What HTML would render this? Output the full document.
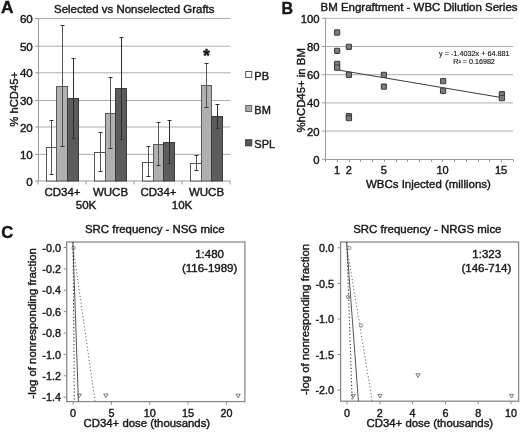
<!DOCTYPE html>
<html><head><meta charset="utf-8"><style>
html,body{margin:0;padding:0;background:#fff;}
svg{display:block;font-family:"Liberation Sans", sans-serif;will-change:transform;}
text{stroke:#161616;stroke-width:0.4px;}
text.sm{stroke-width:0.15px;}
</style></head><body>
<svg width="520" height="432" viewBox="0 0 520 432">
<rect width="520" height="432" fill="#fff"/>
<line x1="38.5" y1="154.4" x2="230.5" y2="154.4" stroke="#adadad" stroke-width="1"/>
<line x1="38.5" y1="127.0" x2="230.5" y2="127.0" stroke="#adadad" stroke-width="1"/>
<line x1="38.5" y1="100.5" x2="230.5" y2="100.5" stroke="#adadad" stroke-width="1"/>
<line x1="38.5" y1="72.8" x2="230.5" y2="72.8" stroke="#adadad" stroke-width="1"/>
<line x1="38.5" y1="46.2" x2="230.5" y2="46.2" stroke="#adadad" stroke-width="1"/>
<line x1="38.5" y1="18.5" x2="230.5" y2="18.5" stroke="#adadad" stroke-width="1"/>
<line x1="38.5" y1="18" x2="38.5" y2="181.0" stroke="#9a9a9a" stroke-width="1"/>
<line x1="35" y1="181.0" x2="38.5" y2="181.0" stroke="#9a9a9a" stroke-width="1"/>
<text x="32.8" y="185.6" font-size="11.6" text-anchor="end" font-weight="normal" fill="#161616" >0</text>
<line x1="35" y1="154.4" x2="38.5" y2="154.4" stroke="#9a9a9a" stroke-width="1"/>
<text x="32.8" y="159.0" font-size="11.6" text-anchor="end" font-weight="normal" fill="#161616" >10</text>
<line x1="35" y1="127.0" x2="38.5" y2="127.0" stroke="#9a9a9a" stroke-width="1"/>
<text x="32.8" y="131.6" font-size="11.6" text-anchor="end" font-weight="normal" fill="#161616" >20</text>
<line x1="35" y1="100.5" x2="38.5" y2="100.5" stroke="#9a9a9a" stroke-width="1"/>
<text x="32.8" y="105.1" font-size="11.6" text-anchor="end" font-weight="normal" fill="#161616" >30</text>
<line x1="35" y1="72.8" x2="38.5" y2="72.8" stroke="#9a9a9a" stroke-width="1"/>
<text x="32.8" y="77.39999999999999" font-size="11.6" text-anchor="end" font-weight="normal" fill="#161616" >40</text>
<line x1="35" y1="46.2" x2="38.5" y2="46.2" stroke="#9a9a9a" stroke-width="1"/>
<text x="32.8" y="50.800000000000004" font-size="11.6" text-anchor="end" font-weight="normal" fill="#161616" >50</text>
<line x1="35" y1="18.5" x2="38.5" y2="18.5" stroke="#9a9a9a" stroke-width="1"/>
<text x="32.8" y="23.1" font-size="11.6" text-anchor="end" font-weight="normal" fill="#161616" >60</text>
<line x1="38.0" y1="181.0" x2="230.5" y2="181.0" stroke="#9a9a9a" stroke-width="1"/>
<line x1="38.0" y1="181.0" x2="38.0" y2="184.5" stroke="#9a9a9a" stroke-width="1"/>
<line x1="86.0" y1="181.0" x2="86.0" y2="184.5" stroke="#9a9a9a" stroke-width="1"/>
<line x1="134.0" y1="181.0" x2="134.0" y2="184.5" stroke="#9a9a9a" stroke-width="1"/>
<line x1="182.0" y1="181.0" x2="182.0" y2="184.5" stroke="#9a9a9a" stroke-width="1"/>
<line x1="230.0" y1="181.0" x2="230.0" y2="184.5" stroke="#9a9a9a" stroke-width="1"/>
<rect x="46.5" y="147.5" width="10" height="33.5" fill="#ffffff" stroke="#555555" stroke-width="1"/>
<rect x="56.5" y="86.5" width="11" height="94.5" fill="#b0b0b0" stroke="#5a5a5a" stroke-width="1"/>
<rect x="67.5" y="98.5" width="11" height="82.5" fill="#5c5c5c" stroke="#3a3a3a" stroke-width="1"/>
<line x1="51.5" y1="120.41" x2="51.5" y2="174.24" stroke="#555" stroke-width="1"/>
<line x1="49.5" y1="120.5" x2="53.5" y2="120.5" stroke="#333" stroke-width="1"/>
<line x1="49.5" y1="174.5" x2="53.5" y2="174.5" stroke="#333" stroke-width="1"/>
<line x1="62.5" y1="25.73" x2="62.5" y2="146.92" stroke="#555" stroke-width="1"/>
<line x1="60.5" y1="25.5" x2="64.5" y2="25.5" stroke="#333" stroke-width="1"/>
<line x1="60.5" y1="146.5" x2="64.5" y2="146.5" stroke="#333" stroke-width="1"/>
<line x1="73.5" y1="58.19" x2="73.5" y2="138.53" stroke="#2c2c2c" stroke-width="1"/>
<line x1="71.5" y1="58.5" x2="75.5" y2="58.5" stroke="#333" stroke-width="1"/>
<line x1="71.5" y1="138.5" x2="75.5" y2="138.5" stroke="#333" stroke-width="1"/>
<rect x="94.5" y="152.5" width="11" height="28.5" fill="#ffffff" stroke="#555555" stroke-width="1"/>
<rect x="105.5" y="113.5" width="10" height="67.5" fill="#b0b0b0" stroke="#5a5a5a" stroke-width="1"/>
<rect x="115.5" y="88.5" width="11" height="92.5" fill="#5c5c5c" stroke="#3a3a3a" stroke-width="1"/>
<line x1="100.5" y1="132.58" x2="100.5" y2="171.80" stroke="#555" stroke-width="1"/>
<line x1="98.5" y1="132.5" x2="102.5" y2="132.5" stroke="#333" stroke-width="1"/>
<line x1="98.5" y1="171.5" x2="102.5" y2="171.5" stroke="#333" stroke-width="1"/>
<line x1="110.5" y1="77.67" x2="110.5" y2="148.54" stroke="#555" stroke-width="1"/>
<line x1="108.5" y1="77.5" x2="112.5" y2="77.5" stroke="#333" stroke-width="1"/>
<line x1="108.5" y1="148.5" x2="112.5" y2="148.5" stroke="#333" stroke-width="1"/>
<line x1="121.5" y1="37.09" x2="121.5" y2="139.34" stroke="#2c2c2c" stroke-width="1"/>
<line x1="119.5" y1="37.5" x2="123.5" y2="37.5" stroke="#333" stroke-width="1"/>
<line x1="119.5" y1="139.5" x2="123.5" y2="139.5" stroke="#333" stroke-width="1"/>
<rect x="142.5" y="162.5" width="11" height="18.5" fill="#ffffff" stroke="#555555" stroke-width="1"/>
<rect x="153.5" y="144.5" width="10" height="36.5" fill="#b0b0b0" stroke="#5a5a5a" stroke-width="1"/>
<rect x="163.5" y="142.5" width="11" height="38.5" fill="#5c5c5c" stroke="#3a3a3a" stroke-width="1"/>
<line x1="148.5" y1="146.65" x2="148.5" y2="176.40" stroke="#555" stroke-width="1"/>
<line x1="146.5" y1="146.5" x2="150.5" y2="146.5" stroke="#333" stroke-width="1"/>
<line x1="146.5" y1="176.5" x2="150.5" y2="176.5" stroke="#333" stroke-width="1"/>
<line x1="158.5" y1="122.30" x2="158.5" y2="165.31" stroke="#555" stroke-width="1"/>
<line x1="156.5" y1="122.5" x2="160.5" y2="122.5" stroke="#333" stroke-width="1"/>
<line x1="156.5" y1="165.5" x2="160.5" y2="165.5" stroke="#333" stroke-width="1"/>
<line x1="169.5" y1="120.41" x2="169.5" y2="163.96" stroke="#2c2c2c" stroke-width="1"/>
<line x1="167.5" y1="120.5" x2="171.5" y2="120.5" stroke="#333" stroke-width="1"/>
<line x1="167.5" y1="163.5" x2="171.5" y2="163.5" stroke="#333" stroke-width="1"/>
<rect x="190.5" y="163.5" width="11" height="17.5" fill="#ffffff" stroke="#555555" stroke-width="1"/>
<rect x="201.5" y="85.5" width="10" height="95.5" fill="#b0b0b0" stroke="#5a5a5a" stroke-width="1"/>
<rect x="211.5" y="116.5" width="11" height="64.5" fill="#5c5c5c" stroke="#3a3a3a" stroke-width="1"/>
<line x1="196.5" y1="155.57" x2="196.5" y2="170.18" stroke="#555" stroke-width="1"/>
<line x1="194.5" y1="155.5" x2="198.5" y2="155.5" stroke="#333" stroke-width="1"/>
<line x1="194.5" y1="170.5" x2="198.5" y2="170.5" stroke="#333" stroke-width="1"/>
<line x1="206.5" y1="63.60" x2="206.5" y2="107.42" stroke="#555" stroke-width="1"/>
<line x1="204.5" y1="63.5" x2="208.5" y2="63.5" stroke="#333" stroke-width="1"/>
<line x1="204.5" y1="107.5" x2="208.5" y2="107.5" stroke="#333" stroke-width="1"/>
<line x1="217.5" y1="104.45" x2="217.5" y2="128.52" stroke="#2c2c2c" stroke-width="1"/>
<line x1="215.5" y1="104.5" x2="219.5" y2="104.5" stroke="#333" stroke-width="1"/>
<line x1="215.5" y1="128.5" x2="219.5" y2="128.5" stroke="#333" stroke-width="1"/>
<text x="62.5" y="196" font-size="11.5" text-anchor="middle" font-weight="normal" fill="#161616" >CD34+</text>
<text x="110.5" y="196" font-size="11.5" text-anchor="middle" font-weight="normal" fill="#161616" >WUCB</text>
<text x="158.5" y="196" font-size="11.5" text-anchor="middle" font-weight="normal" fill="#161616" >CD34+</text>
<text x="206.5" y="196" font-size="11.5" text-anchor="middle" font-weight="normal" fill="#161616" >WUCB</text>
<text x="86" y="209" font-size="11.5" text-anchor="middle" font-weight="normal" fill="#161616" >50K</text>
<text x="182" y="209" font-size="11.5" text-anchor="middle" font-weight="normal" fill="#161616" >10K</text>
<text x="206.4" y="62.2" font-size="18" text-anchor="middle" font-weight="bold" fill="#161616" >*</text>
<rect x="245.7" y="71.5" width="6" height="6" fill="#ffffff" stroke="#555" stroke-width="1"/>
<text x="254.3" y="79.5" font-size="11" text-anchor="start" font-weight="normal" fill="#161616" >PB</text>
<rect x="245.7" y="105.5" width="6" height="6" fill="#a9a9a9" stroke="#666" stroke-width="1"/>
<text x="254.3" y="113.5" font-size="11" text-anchor="start" font-weight="normal" fill="#161616" >BM</text>
<rect x="245.7" y="139.8" width="6" height="6" fill="#5a5a5a" stroke="#333" stroke-width="1"/>
<text x="254.3" y="147.8" font-size="11" text-anchor="start" font-weight="normal" fill="#161616" >SPL</text>
<text x="54" y="12.6" font-size="11.5" text-anchor="start" font-weight="normal" fill="#161616" textLength="160.5" lengthAdjust="spacingAndGlyphs" >Selected vs Nonselected Grafts</text>
<text x="1.1" y="12.9" font-size="17.3" text-anchor="start" font-weight="bold" fill="#161616" >A</text>
<text transform="translate(18.4 99.3) rotate(-90)" font-size="11.5" text-anchor="middle" fill="#161616" textLength="55" lengthAdjust="spacingAndGlyphs">% hCD45+</text>
<line x1="325.3" y1="131.10" x2="513.0" y2="131.10" stroke="#adadad" stroke-width="1"/>
<line x1="325.3" y1="102.90" x2="513.0" y2="102.90" stroke="#adadad" stroke-width="1"/>
<line x1="325.3" y1="74.70" x2="513.0" y2="74.70" stroke="#adadad" stroke-width="1"/>
<line x1="325.3" y1="46.50" x2="513.0" y2="46.50" stroke="#adadad" stroke-width="1"/>
<line x1="325.3" y1="18.30" x2="513.0" y2="18.30" stroke="#adadad" stroke-width="1"/>
<line x1="325.5" y1="18" x2="325.5" y2="160" stroke="#9a9a9a" stroke-width="1"/>
<line x1="322" y1="159.30" x2="325.3" y2="159.30" stroke="#9a9a9a" stroke-width="1"/>
<text x="319.5" y="163.70" font-size="11.3" text-anchor="end" font-weight="normal" fill="#161616" >0</text>
<line x1="322" y1="131.10" x2="325.3" y2="131.10" stroke="#9a9a9a" stroke-width="1"/>
<text x="319.5" y="135.50" font-size="11.3" text-anchor="end" font-weight="normal" fill="#161616" >20</text>
<line x1="322" y1="102.90" x2="325.3" y2="102.90" stroke="#9a9a9a" stroke-width="1"/>
<text x="319.5" y="107.30" font-size="11.3" text-anchor="end" font-weight="normal" fill="#161616" >40</text>
<line x1="322" y1="74.70" x2="325.3" y2="74.70" stroke="#9a9a9a" stroke-width="1"/>
<text x="319.5" y="79.10" font-size="11.3" text-anchor="end" font-weight="normal" fill="#161616" >60</text>
<line x1="322" y1="46.50" x2="325.3" y2="46.50" stroke="#9a9a9a" stroke-width="1"/>
<text x="319.5" y="50.90" font-size="11.3" text-anchor="end" font-weight="normal" fill="#161616" >80</text>
<line x1="322" y1="18.30" x2="325.3" y2="18.30" stroke="#9a9a9a" stroke-width="1"/>
<text x="319.5" y="22.70" font-size="11.3" text-anchor="end" font-weight="normal" fill="#161616" >100</text>
<line x1="325" y1="159.5" x2="513.0" y2="159.5" stroke="#9a9a9a" stroke-width="1"/>
<line x1="325.5" y1="159.5" x2="325.5" y2="162" stroke="#9a9a9a" stroke-width="1"/>
<line x1="337.5" y1="159.5" x2="337.5" y2="162" stroke="#9a9a9a" stroke-width="1"/>
<line x1="349.5" y1="159.5" x2="349.5" y2="162" stroke="#9a9a9a" stroke-width="1"/>
<line x1="360.5" y1="159.5" x2="360.5" y2="162" stroke="#9a9a9a" stroke-width="1"/>
<line x1="372.5" y1="159.5" x2="372.5" y2="162" stroke="#9a9a9a" stroke-width="1"/>
<line x1="384.5" y1="159.5" x2="384.5" y2="162" stroke="#9a9a9a" stroke-width="1"/>
<line x1="396.5" y1="159.5" x2="396.5" y2="162" stroke="#9a9a9a" stroke-width="1"/>
<line x1="407.5" y1="159.5" x2="407.5" y2="162" stroke="#9a9a9a" stroke-width="1"/>
<line x1="419.5" y1="159.5" x2="419.5" y2="162" stroke="#9a9a9a" stroke-width="1"/>
<line x1="431.5" y1="159.5" x2="431.5" y2="162" stroke="#9a9a9a" stroke-width="1"/>
<line x1="442.5" y1="159.5" x2="442.5" y2="162" stroke="#9a9a9a" stroke-width="1"/>
<line x1="454.5" y1="159.5" x2="454.5" y2="162" stroke="#9a9a9a" stroke-width="1"/>
<line x1="466.5" y1="159.5" x2="466.5" y2="162" stroke="#9a9a9a" stroke-width="1"/>
<line x1="478.5" y1="159.5" x2="478.5" y2="162" stroke="#9a9a9a" stroke-width="1"/>
<line x1="489.5" y1="159.5" x2="489.5" y2="162" stroke="#9a9a9a" stroke-width="1"/>
<line x1="501.5" y1="159.5" x2="501.5" y2="162" stroke="#9a9a9a" stroke-width="1"/>
<line x1="513.5" y1="159.5" x2="513.5" y2="162" stroke="#9a9a9a" stroke-width="1"/>
<text x="337.02000000000004" y="174.2" font-size="11" text-anchor="middle" font-weight="normal" fill="#161616" >1</text>
<text x="348.74" y="174.2" font-size="11" text-anchor="middle" font-weight="normal" fill="#161616" >2</text>
<text x="383.90000000000003" y="174.2" font-size="11" text-anchor="middle" font-weight="normal" fill="#161616" >5</text>
<text x="442.5" y="174.2" font-size="11" text-anchor="middle" font-weight="normal" fill="#161616" >10</text>
<text x="501.1" y="174.2" font-size="11" text-anchor="middle" font-weight="normal" fill="#161616" >15</text>
<text x="366" y="188" font-size="11.4" text-anchor="start" font-weight="normal" fill="#161616" textLength="124.8" lengthAdjust="spacingAndGlyphs" >WBCs Injected (millions)</text>
<text transform="translate(305.2 90.3) rotate(-90)" font-size="10.7" text-anchor="middle" fill="#161616" textLength="84.5" lengthAdjust="spacingAndGlyphs">%hCD45+ in BM</text>
<text x="320.5" y="10.5" font-size="11" text-anchor="start" font-weight="normal" fill="#161616" textLength="197" lengthAdjust="spacingAndGlyphs" >BM Engraftment - WBC Dilution Series</text>
<text x="281.5" y="13.8" font-size="16" text-anchor="start" font-weight="bold" fill="#161616" >B</text>
<line x1="337.02" y1="69.80" x2="501.10" y2="97.50" stroke="#3a3a3a" stroke-width="1"/>
<rect x="334.50" y="29.90" width="5.2" height="5.2" rx="0.8" fill="#7c7c7c" stroke="#404040" stroke-width="1.1"/>
<rect x="334.50" y="48.20" width="5.2" height="5.2" rx="0.8" fill="#7c7c7c" stroke="#404040" stroke-width="1.1"/>
<rect x="334.50" y="61.20" width="5.2" height="5.2" rx="0.8" fill="#7c7c7c" stroke="#404040" stroke-width="1.1"/>
<rect x="334.50" y="65.00" width="5.2" height="5.2" rx="0.8" fill="#7c7c7c" stroke="#404040" stroke-width="1.1"/>
<rect x="346.30" y="44.20" width="5.2" height="5.2" rx="0.8" fill="#7c7c7c" stroke="#404040" stroke-width="1.1"/>
<rect x="346.30" y="72.30" width="5.2" height="5.2" rx="0.8" fill="#7c7c7c" stroke="#404040" stroke-width="1.1"/>
<rect x="346.30" y="113.60" width="5.2" height="5.2" rx="0.8" fill="#7c7c7c" stroke="#404040" stroke-width="1.1"/>
<rect x="346.30" y="115.60" width="5.2" height="5.2" rx="0.8" fill="#7c7c7c" stroke="#404040" stroke-width="1.1"/>
<rect x="381.30" y="72.30" width="5.2" height="5.2" rx="0.8" fill="#7c7c7c" stroke="#404040" stroke-width="1.1"/>
<rect x="381.30" y="84.10" width="5.2" height="5.2" rx="0.8" fill="#7c7c7c" stroke="#404040" stroke-width="1.1"/>
<rect x="440.50" y="78.50" width="5.2" height="5.2" rx="0.8" fill="#7c7c7c" stroke="#404040" stroke-width="1.1"/>
<rect x="440.50" y="88.30" width="5.2" height="5.2" rx="0.8" fill="#7c7c7c" stroke="#404040" stroke-width="1.1"/>
<rect x="499.30" y="91.60" width="5.2" height="5.2" rx="0.8" fill="#7c7c7c" stroke="#404040" stroke-width="1.1"/>
<rect x="499.30" y="95.50" width="5.2" height="5.2" rx="0.8" fill="#7c7c7c" stroke="#404040" stroke-width="1.1"/>
<text x="474.3" y="56.2" font-size="7" text-anchor="middle" font-weight="normal" fill="#161616" textLength="70.5" lengthAdjust="spacingAndGlyphs" class="sm">y = -1.4032x + 64.881</text>
<text x="474.1" y="63.8" font-size="7" text-anchor="middle" font-weight="normal" fill="#161616" textLength="41.5" lengthAdjust="spacingAndGlyphs" class="sm">R² = 0.16982</text>
<rect x="66.7" y="242.0" width="178.2" height="159.60000000000002" fill="none" stroke="#8a8a8a" stroke-width="1.3"/>
<g clip-path="url(#c66)">
<line x1="72.91" y1="242.0" x2="78.40" y2="401.6" stroke="#555" stroke-width="1.0" />
<line x1="73.05" y1="242.0" x2="74.38" y2="401.6" stroke="#333" stroke-width="1.1" stroke-dasharray="1.2 2.2"/>
<line x1="72.32" y1="242.0" x2="95.08" y2="401.6" stroke="#666" stroke-width="1.0" stroke-dasharray="1.2 2.2"/>
</g>
<defs><clipPath id="c66"><rect x="66.7" y="242.0" width="178.2" height="159.60000000000002"/></clipPath></defs>
<circle cx="73.6" cy="248.0" r="1.7" fill="none" stroke="#707070" stroke-width="0.8"/>
<path d="M77.10 394.00 L81.30 394.00 L79.20 397.60 Z" fill="none" stroke="#6a6a6a" stroke-width="0.9"/>
<path d="M103.70 394.00 L107.90 394.00 L105.80 397.60 Z" fill="none" stroke="#6a6a6a" stroke-width="0.9"/>
<path d="M236.10 394.20 L240.30 394.20 L238.20 397.80 Z" fill="none" stroke="#6a6a6a" stroke-width="0.9"/>
<line x1="73.10" y1="401.6" x2="73.10" y2="404.6" stroke="#8a8a8a" stroke-width="1"/>
<text x="73.10" y="416.9" font-size="10.8" text-anchor="middle" font-weight="normal" fill="#161616" >0</text>
<line x1="111.42" y1="401.6" x2="111.42" y2="404.6" stroke="#8a8a8a" stroke-width="1"/>
<text x="111.42" y="416.9" font-size="10.8" text-anchor="middle" font-weight="normal" fill="#161616" >5</text>
<line x1="149.75" y1="401.6" x2="149.75" y2="404.6" stroke="#8a8a8a" stroke-width="1"/>
<text x="149.75" y="416.9" font-size="10.8" text-anchor="middle" font-weight="normal" fill="#161616" >10</text>
<line x1="188.07" y1="401.6" x2="188.07" y2="404.6" stroke="#8a8a8a" stroke-width="1"/>
<text x="188.07" y="416.9" font-size="10.8" text-anchor="middle" font-weight="normal" fill="#161616" >15</text>
<line x1="226.40" y1="401.6" x2="226.40" y2="404.6" stroke="#8a8a8a" stroke-width="1"/>
<text x="226.40" y="416.9" font-size="10.8" text-anchor="middle" font-weight="normal" fill="#161616" >20</text>
<line x1="63.7" y1="247.50" x2="66.7" y2="247.50" stroke="#8a8a8a" stroke-width="1"/>
<text x="60.90" y="251.60" font-size="10.8" text-anchor="end" font-weight="normal" fill="#161616" >-0.0</text>
<line x1="63.7" y1="268.88" x2="66.7" y2="268.88" stroke="#8a8a8a" stroke-width="1"/>
<text x="60.90" y="272.98" font-size="10.8" text-anchor="end" font-weight="normal" fill="#161616" >-0.2</text>
<line x1="63.7" y1="290.26" x2="66.7" y2="290.26" stroke="#8a8a8a" stroke-width="1"/>
<text x="60.90" y="294.36" font-size="10.8" text-anchor="end" font-weight="normal" fill="#161616" >-0.4</text>
<line x1="63.7" y1="311.64" x2="66.7" y2="311.64" stroke="#8a8a8a" stroke-width="1"/>
<text x="60.90" y="315.74" font-size="10.8" text-anchor="end" font-weight="normal" fill="#161616" >-0.6</text>
<line x1="63.7" y1="333.02" x2="66.7" y2="333.02" stroke="#8a8a8a" stroke-width="1"/>
<text x="60.90" y="337.12" font-size="10.8" text-anchor="end" font-weight="normal" fill="#161616" >-0.8</text>
<line x1="63.7" y1="354.40" x2="66.7" y2="354.40" stroke="#8a8a8a" stroke-width="1"/>
<text x="60.90" y="358.50" font-size="10.8" text-anchor="end" font-weight="normal" fill="#161616" >-1.0</text>
<line x1="63.7" y1="375.78" x2="66.7" y2="375.78" stroke="#8a8a8a" stroke-width="1"/>
<text x="60.90" y="379.88" font-size="10.8" text-anchor="end" font-weight="normal" fill="#161616" >-1.2</text>
<line x1="63.7" y1="397.16" x2="66.7" y2="397.16" stroke="#8a8a8a" stroke-width="1"/>
<text x="60.90" y="401.26" font-size="10.8" text-anchor="end" font-weight="normal" fill="#161616" >-1.4</text>
<text x="85.0" y="232.6" font-size="11.3" text-anchor="start" font-weight="normal" fill="#161616" textLength="139.5" lengthAdjust="spacingAndGlyphs" >SRC frequency - NSG mice</text>
<text transform="translate(35.6 323.4) rotate(-90)" font-size="11.3" text-anchor="middle" fill="#161616" textLength="150.5" lengthAdjust="spacingAndGlyphs">-log of nonresponding fraction</text>
<text x="83.6" y="427.3" font-size="11.3" text-anchor="start" font-weight="normal" fill="#161616" textLength="126.5" lengthAdjust="spacingAndGlyphs" >CD34+ dose (thousands)</text>
<text x="209.6" y="258.3" font-size="11.5" text-anchor="middle" font-weight="normal" fill="#161616" >1:480</text>
<text x="209.6" y="272.3" font-size="11.5" text-anchor="middle" font-weight="normal" fill="#161616" >(116-1989)</text>
<rect x="340.6" y="242.0" width="178.0" height="159.2" fill="none" stroke="#8a8a8a" stroke-width="1.3"/>
<g clip-path="url(#c340)">
<line x1="346.57" y1="242.0" x2="358.41" y2="401.2" stroke="#555" stroke-width="1.0" />
<line x1="346.80" y1="242.0" x2="352.16" y2="401.2" stroke="#333" stroke-width="1.1" stroke-dasharray="1.2 2.2"/>
<line x1="346.05" y1="242.0" x2="372.23" y2="401.2" stroke="#666" stroke-width="1.0" stroke-dasharray="1.2 2.2"/>
</g>
<defs><clipPath id="c340"><rect x="340.6" y="242.0" width="178.0" height="159.2"/></clipPath></defs>
<circle cx="349.3" cy="247.9" r="1.7" fill="none" stroke="#707070" stroke-width="0.8"/>
<circle cx="348.1" cy="297.0" r="1.7" fill="none" stroke="#707070" stroke-width="0.8"/>
<circle cx="361.0" cy="325.5" r="1.7" fill="none" stroke="#707070" stroke-width="0.8"/>
<path d="M351.20 394.40 L355.40 394.40 L353.30 398.00 Z" fill="none" stroke="#6a6a6a" stroke-width="0.9"/>
<path d="M377.70 394.40 L381.90 394.40 L379.80 398.00 Z" fill="none" stroke="#6a6a6a" stroke-width="0.9"/>
<path d="M415.90 373.80 L420.10 373.80 L418.00 377.40 Z" fill="none" stroke="#6a6a6a" stroke-width="0.9"/>
<path d="M509.40 394.40 L513.60 394.40 L511.50 398.00 Z" fill="none" stroke="#6a6a6a" stroke-width="0.9"/>
<line x1="347.00" y1="401.2" x2="347.00" y2="404.2" stroke="#8a8a8a" stroke-width="1"/>
<text x="347.00" y="416.9" font-size="10.8" text-anchor="middle" font-weight="normal" fill="#161616" >0</text>
<line x1="379.80" y1="401.2" x2="379.80" y2="404.2" stroke="#8a8a8a" stroke-width="1"/>
<text x="379.80" y="416.9" font-size="10.8" text-anchor="middle" font-weight="normal" fill="#161616" >2</text>
<line x1="412.60" y1="401.2" x2="412.60" y2="404.2" stroke="#8a8a8a" stroke-width="1"/>
<text x="412.60" y="416.9" font-size="10.8" text-anchor="middle" font-weight="normal" fill="#161616" >4</text>
<line x1="445.40" y1="401.2" x2="445.40" y2="404.2" stroke="#8a8a8a" stroke-width="1"/>
<text x="445.40" y="416.9" font-size="10.8" text-anchor="middle" font-weight="normal" fill="#161616" >6</text>
<line x1="478.20" y1="401.2" x2="478.20" y2="404.2" stroke="#8a8a8a" stroke-width="1"/>
<text x="478.20" y="416.9" font-size="10.8" text-anchor="middle" font-weight="normal" fill="#161616" >8</text>
<line x1="511.00" y1="401.2" x2="511.00" y2="404.2" stroke="#8a8a8a" stroke-width="1"/>
<text x="511.00" y="416.9" font-size="10.8" text-anchor="middle" font-weight="normal" fill="#161616" >10</text>
<line x1="337.6" y1="247.80" x2="340.6" y2="247.80" stroke="#8a8a8a" stroke-width="1"/>
<text x="334.10" y="251.90" font-size="10.8" text-anchor="end" font-weight="normal" fill="#161616" >0.0</text>
<line x1="337.6" y1="283.40" x2="340.6" y2="283.40" stroke="#8a8a8a" stroke-width="1"/>
<text x="334.10" y="287.50" font-size="10.8" text-anchor="end" font-weight="normal" fill="#161616" >-0.5</text>
<line x1="337.6" y1="319.00" x2="340.6" y2="319.00" stroke="#8a8a8a" stroke-width="1"/>
<text x="334.10" y="323.10" font-size="10.8" text-anchor="end" font-weight="normal" fill="#161616" >-1.0</text>
<line x1="337.6" y1="354.60" x2="340.6" y2="354.60" stroke="#8a8a8a" stroke-width="1"/>
<text x="334.10" y="358.70" font-size="10.8" text-anchor="end" font-weight="normal" fill="#161616" >-1.5</text>
<line x1="337.6" y1="390.20" x2="340.6" y2="390.20" stroke="#8a8a8a" stroke-width="1"/>
<text x="334.10" y="394.30" font-size="10.8" text-anchor="end" font-weight="normal" fill="#161616" >-2.0</text>
<text x="353.2" y="232.6" font-size="11.3" text-anchor="start" font-weight="normal" fill="#161616" textLength="148.3" lengthAdjust="spacingAndGlyphs" >SRC frequency - NRGS mice</text>
<text transform="translate(309.1 319.4) rotate(-90)" font-size="11.3" text-anchor="middle" fill="#161616" textLength="151.1" lengthAdjust="spacingAndGlyphs">-log of nonresponding fraction</text>
<text x="366.6" y="427.3" font-size="11.3" text-anchor="start" font-weight="normal" fill="#161616" textLength="126.5" lengthAdjust="spacingAndGlyphs" >CD34+ dose (thousands)</text>
<text x="486.7" y="258.3" font-size="11.5" text-anchor="middle" font-weight="normal" fill="#161616" >1:323</text>
<text x="486.4" y="272.3" font-size="11.5" text-anchor="middle" font-weight="normal" fill="#161616" >(146-714)</text>
<text x="1.2" y="238.3" font-size="16.6" text-anchor="start" font-weight="bold" fill="#161616" >C</text>
</svg></body></html>
